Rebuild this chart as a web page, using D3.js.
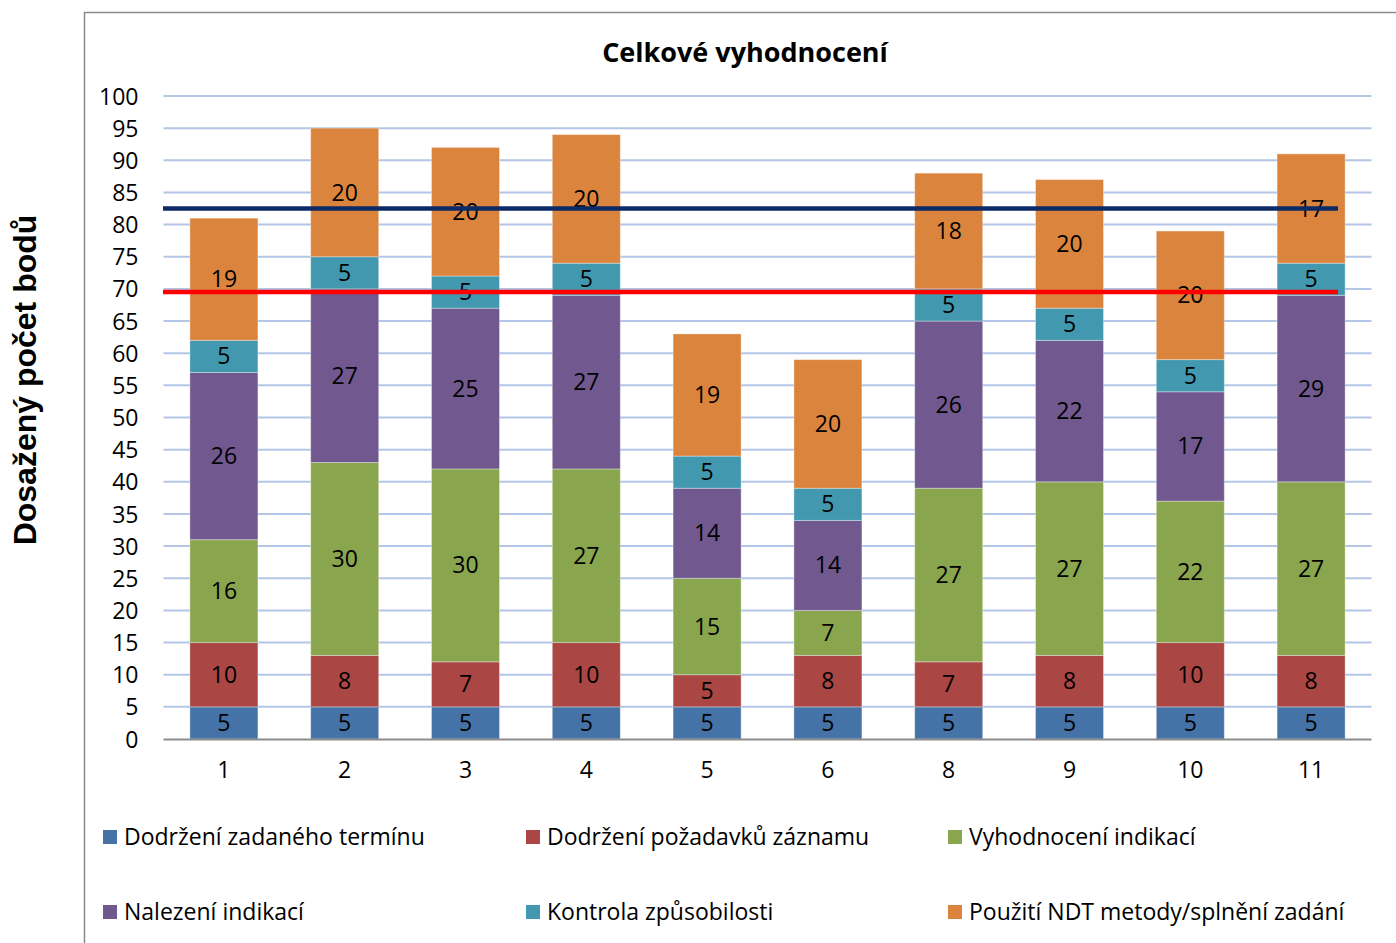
<!DOCTYPE html>
<html><head><meta charset="utf-8">
<script src="https://cdn.jsdelivr.net/npm/d3@7"></script>
<style>html,body{margin:0;padding:0;background:#fff;overflow:hidden}</style>
</head><body>
<svg id="c" width="1396" height="943"></svg>
<script>
const categories = ["1","2","3","4","5","6","8","9","10","11"];
const seriesNames = ["Dodržení zadaného termínu","Dodržení požadavků záznamu","Vyhodnocení indikací","Nalezení indikací","Kontrola způsobilosti","Použití NDT metody/splnění zadání"];
const termin = [5,5,5,5,5,5,5,5,5,5];
const zaznam = [10,8,7,10,5,8,7,8,10,8];
const vyhodnoceni = [16,30,30,27,15,7,27,27,22,27];
const nalezeni = [26,27,25,27,14,14,26,22,17,29];
const kontrola = [5,5,5,5,5,5,5,5,5,5];
const ndt = [19,20,20,20,19,20,18,20,20,17];
const yTicks = [0,5,10,15,20,25,30,35,40,45,50,55,60,65,70,75,80,85,90,95,100];
const refLines = [{value:82.5,color:"#0b2a66"},{value:69.5,color:"#ff0000"}];
const colors = ["#4572a7","#aa4643","#89a54e","#71588f","#4198af","#db843d"];

const svg = d3.select("#c");
const font = "'Open Sans', Lato, sans-serif";
const x = d3.scaleBand().domain(categories).range([163.5,1371.5]).paddingInner(0.437).paddingOuter(0.2185);
const y = d3.scaleLinear().domain([0,100]).range([739,96]);

// frame
svg.append("path").attr("d","M84.5,943V12.5H1396").attr("fill","none").attr("stroke","#8a8a8a").attr("stroke-width",1.5);

// gridlines
svg.append("g").selectAll("line").data(yTicks.filter(d=>d>0)).join("line")
  .attr("x1",163.5).attr("x2",1371.5).attr("y1",d=>y(d)).attr("y2",d=>y(d))
  .attr("stroke","#b4c6e7").attr("stroke-width",2);

const yAxis = svg.append("g").attr("transform","translate(163.5,0)")
  .call(d3.axisLeft(y).tickValues(yTicks).tickSize(0).tickPadding(25));
yAxis.select(".domain").remove();
yAxis.selectAll("text").attr("font-family",font).attr("font-size",23).attr("fill","#000").attr("dy","0.35em");

const data = categories.map((c,i)=>({cat:c,termin:termin[i],zaznam:zaznam[i],vyhodnoceni:vyhodnoceni[i],nalezeni:nalezeni[i],kontrola:kontrola[i],ndt:ndt[i]}));
const keys = ["termin","zaznam","vyhodnoceni","nalezeni","kontrola","ndt"];
const stacked = d3.stack().keys(keys)(data);

const g = svg.append("g");
stacked.forEach((s,si)=>{
  g.selectAll(null).data(s).join("rect")
    .attr("x",d=>x(d.data.cat)).attr("width",x.bandwidth())
    .attr("y",d=>y(d[1])).attr("height",d=>y(d[0])-y(d[1]))
    .attr("fill",colors[si]).attr("stroke","#fff").attr("stroke-opacity",0.35).attr("stroke-width",1);
});
stacked.forEach((s,si)=>{
  g.selectAll(null).data(s).join("text")
    .attr("x",d=>x(d.data.cat)+x.bandwidth()/2).attr("y",d=>(y(d[0])+y(d[1]))/2)
    .attr("dy","0.35em").attr("text-anchor","middle")
    .attr("font-family",font).attr("font-size",23).attr("fill","#000")
    .text(d=>d[1]-d[0]);
});

// x axis
svg.append("line").attr("x1",163.5).attr("x2",1371.5).attr("y1",739.5).attr("y2",739.5).attr("stroke","#8c8c8c").attr("stroke-width",2);
const xAxis = svg.append("g").attr("transform","translate(0,739)").call(d3.axisBottom(x).tickSize(0).tickPadding(23));
xAxis.select(".domain").remove();
xAxis.selectAll("text").attr("font-family",font).attr("font-size",23).attr("fill","#000");

// reference lines
svg.append("g").selectAll("line").data(refLines).join("line")
  .attr("x1",163).attr("x2",1338).attr("y1",d=>y(d.value)).attr("y2",d=>y(d.value))
  .attr("stroke",d=>d.color).attr("stroke-width",4.5);

// title
svg.append("text").attr("x",745).attr("y",62).attr("text-anchor","middle")
  .attr("font-family",font).attr("font-weight","bold").attr("font-size",27).text("Celkové vyhodnocení");

// y title
svg.append("text").attr("transform","translate(36,380) rotate(-90)").attr("text-anchor","middle")
  .attr("font-family","'Liberation Sans', Arial, sans-serif").attr("font-weight","bold").attr("font-size",32).text("Dosažený počet bodů");

// legend
const legPos = [[103,837],[526,837],[948,837],[103,912],[526,912],[948,912]];
const leg = svg.append("g").selectAll("g").data(seriesNames).join("g")
  .attr("transform",(d,i)=>`translate(${legPos[i][0]},${legPos[i][1]})`);
leg.append("rect").attr("x",0).attr("y",-7).attr("width",14).attr("height",14).attr("fill",(d,i)=>colors[i]);
leg.append("text").attr("x",21).attr("dy","0.35em").attr("font-family",font).attr("font-size",23).text(d=>d);
</script>
</body></html>
